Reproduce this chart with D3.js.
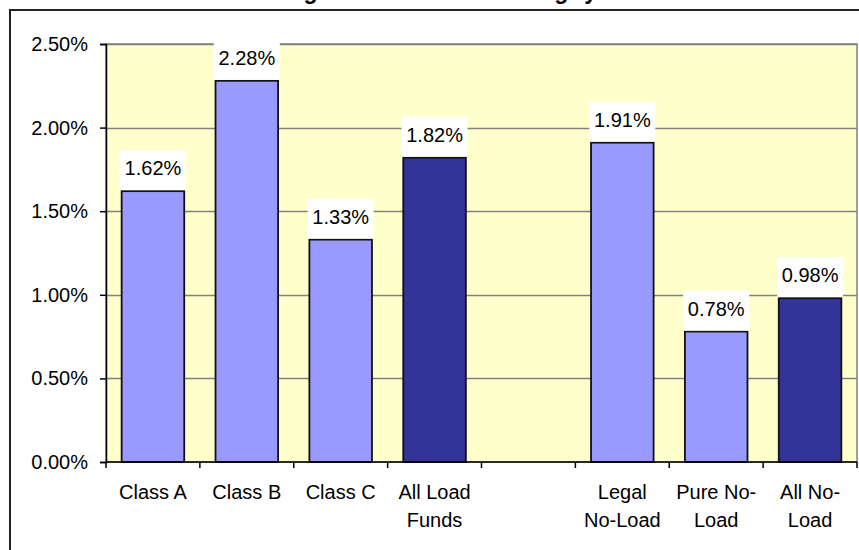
<!DOCTYPE html>
<html>
<head>
<meta charset="utf-8">
<script src="https://cdn.jsdelivr.net/npm/d3@7"></script>
<style>
  html, body { margin: 0; padding: 0; background: #fff; }
  svg { display: block; }
  text { font-family: Arial, "Liberation Sans", sans-serif; }
</style>
</head>
<body>
<svg id="chart" width="859" height="550"></svg>
<script>
// ---- data ----
const titleText = "Average Annual Cost of Each Category";
const categories = ["Class A", "Class B", "Class C", "All Load Funds", "", "Legal No-Load", "Pure No-Load", "All No-Load"];
const categoryLines = [["Class A"], ["Class B"], ["Class C"], ["All Load", "Funds"], [], ["Legal", "No-Load"], ["Pure No-", "Load"], ["All No-", "Load"]];
const values = [0.0162, 0.0228, 0.0133, 0.0182, null, 0.0191, 0.0078, 0.0098];
const isTotal = [false, false, false, true, false, false, false, true];
const yTicks = [0, 0.005, 0.01, 0.015, 0.02, 0.025];

// ---- layout ----
const svg = d3.select("#chart");
const plot = { left: 106, right: 857, top: 44, bottom: 462 };
const fontSize = 20;

// outer chart border (extends beyond the visible window)
svg.append("rect")
  .attr("x", 10).attr("y", 10).attr("width", 880).attr("height", 580)
  .attr("fill", "#fff").attr("stroke", "#222").attr("stroke-width", 2);

// title: mostly above the visible window in the reference (only descenders show)
svg.append("text")
  .attr("x", 252).attr("y", -0.8)
  .attr("font-size", 23).attr("font-weight", "bold")
  .attr("textLength", 345).attr("lengthAdjust", "spacing")
  .text(titleText);

const x = d3.scaleBand()
  .domain(d3.range(categories.length))
  .range([plot.left, plot.right])
  .paddingInner(1 / 3)
  .paddingOuter(1 / 6);

const y = d3.scaleLinear().domain([0, 0.025]).range([plot.bottom, plot.top]);

// plot background
svg.append("rect")
  .attr("x", plot.left).attr("y", plot.top)
  .attr("width", plot.right - plot.left).attr("height", plot.bottom - plot.top)
  .attr("fill", "#FFFFCC").attr("stroke", "#808080").attr("stroke-width", 1.5);

// gridlines
svg.append("g").selectAll("line").data(yTicks.slice(1)).join("line")
  .attr("x1", plot.left).attr("x2", plot.right)
  .attr("y1", d => Math.round(y(d)) + 0.5).attr("y2", d => Math.round(y(d)) + 0.5)
  .attr("stroke", "#808080").attr("stroke-width", 1.5);

// y axis
const yAxis = d3.axisLeft(y).tickValues(yTicks).tickSize(6).tickPadding(12)
  .tickFormat(d => (d * 100).toFixed(2) + "%");
const gy = svg.append("g").attr("transform", `translate(${plot.left},0)`).call(yAxis);
gy.select(".domain").attr("stroke", "#000").attr("stroke-width", 1.5);
gy.selectAll(".tick line").attr("stroke", "#000").attr("stroke-width", 1.5);
gy.selectAll(".tick text").attr("font-size", fontSize).attr("fill", "#000")
  .attr("font-family", "Arial, 'Liberation Sans', sans-serif");

// bars
const bars = categories.map((c, i) => ({ i, v: values[i], total: isTotal[i] })).filter(d => d.v != null);
svg.append("g").selectAll("rect").data(bars).join("rect")
  .attr("x", d => x(d.i)).attr("width", x.bandwidth())
  .attr("y", d => y(d.v)).attr("height", d => y(0) - y(d.v))
  .attr("fill", d => d.total ? "#333399" : "#9999FF")
  .attr("stroke", "#111").attr("stroke-width", 1.8);

// x axis line and tick marks at band boundaries
svg.append("line")
  .attr("x1", plot.left).attr("x2", plot.right)
  .attr("y1", plot.bottom).attr("y2", plot.bottom)
  .attr("stroke", "#000").attr("stroke-width", 1.5);
const boundaries = d3.range(categories.length + 1).map(i => plot.left + i * x.step());
svg.append("g").selectAll("line").data(boundaries).join("line")
  .attr("x1", d => d).attr("x2", d => d)
  .attr("y1", plot.bottom).attr("y2", plot.bottom + 6)
  .attr("stroke", "#000").attr("stroke-width", 1.5);

// x labels
const xl = svg.append("g").selectAll("text").data(categoryLines.map((l, i) => ({ l, i }))).join("text")
  .attr("text-anchor", "middle").attr("font-size", fontSize).attr("fill", "#000");
xl.each(function (d) {
  const t = d3.select(this);
  d.l.forEach((line, k) => {
    t.append("tspan")
      .attr("x", x(d.i) + x.bandwidth() / 2)
      .attr("y", 499 + k * 27.5)
      .text(line);
  });
});

// data labels with white boxes
const lab = svg.append("g").selectAll("g").data(bars).join("g");
lab.append("rect")
  .attr("x", d => x(d.i) + x.bandwidth() / 2 - 33)
  .attr("y", d => y(d.v) - 41)
  .attr("width", 66).attr("height", 40)
  .attr("fill", "#fff");
lab.append("text")
  .attr("x", d => x(d.i) + x.bandwidth() / 2)
  .attr("y", d => y(d.v) - 16)
  .attr("text-anchor", "middle").attr("font-size", fontSize).attr("fill", "#000")
  .text(d => (d.v * 100).toFixed(2) + "%");
</script>
</body>
</html>
